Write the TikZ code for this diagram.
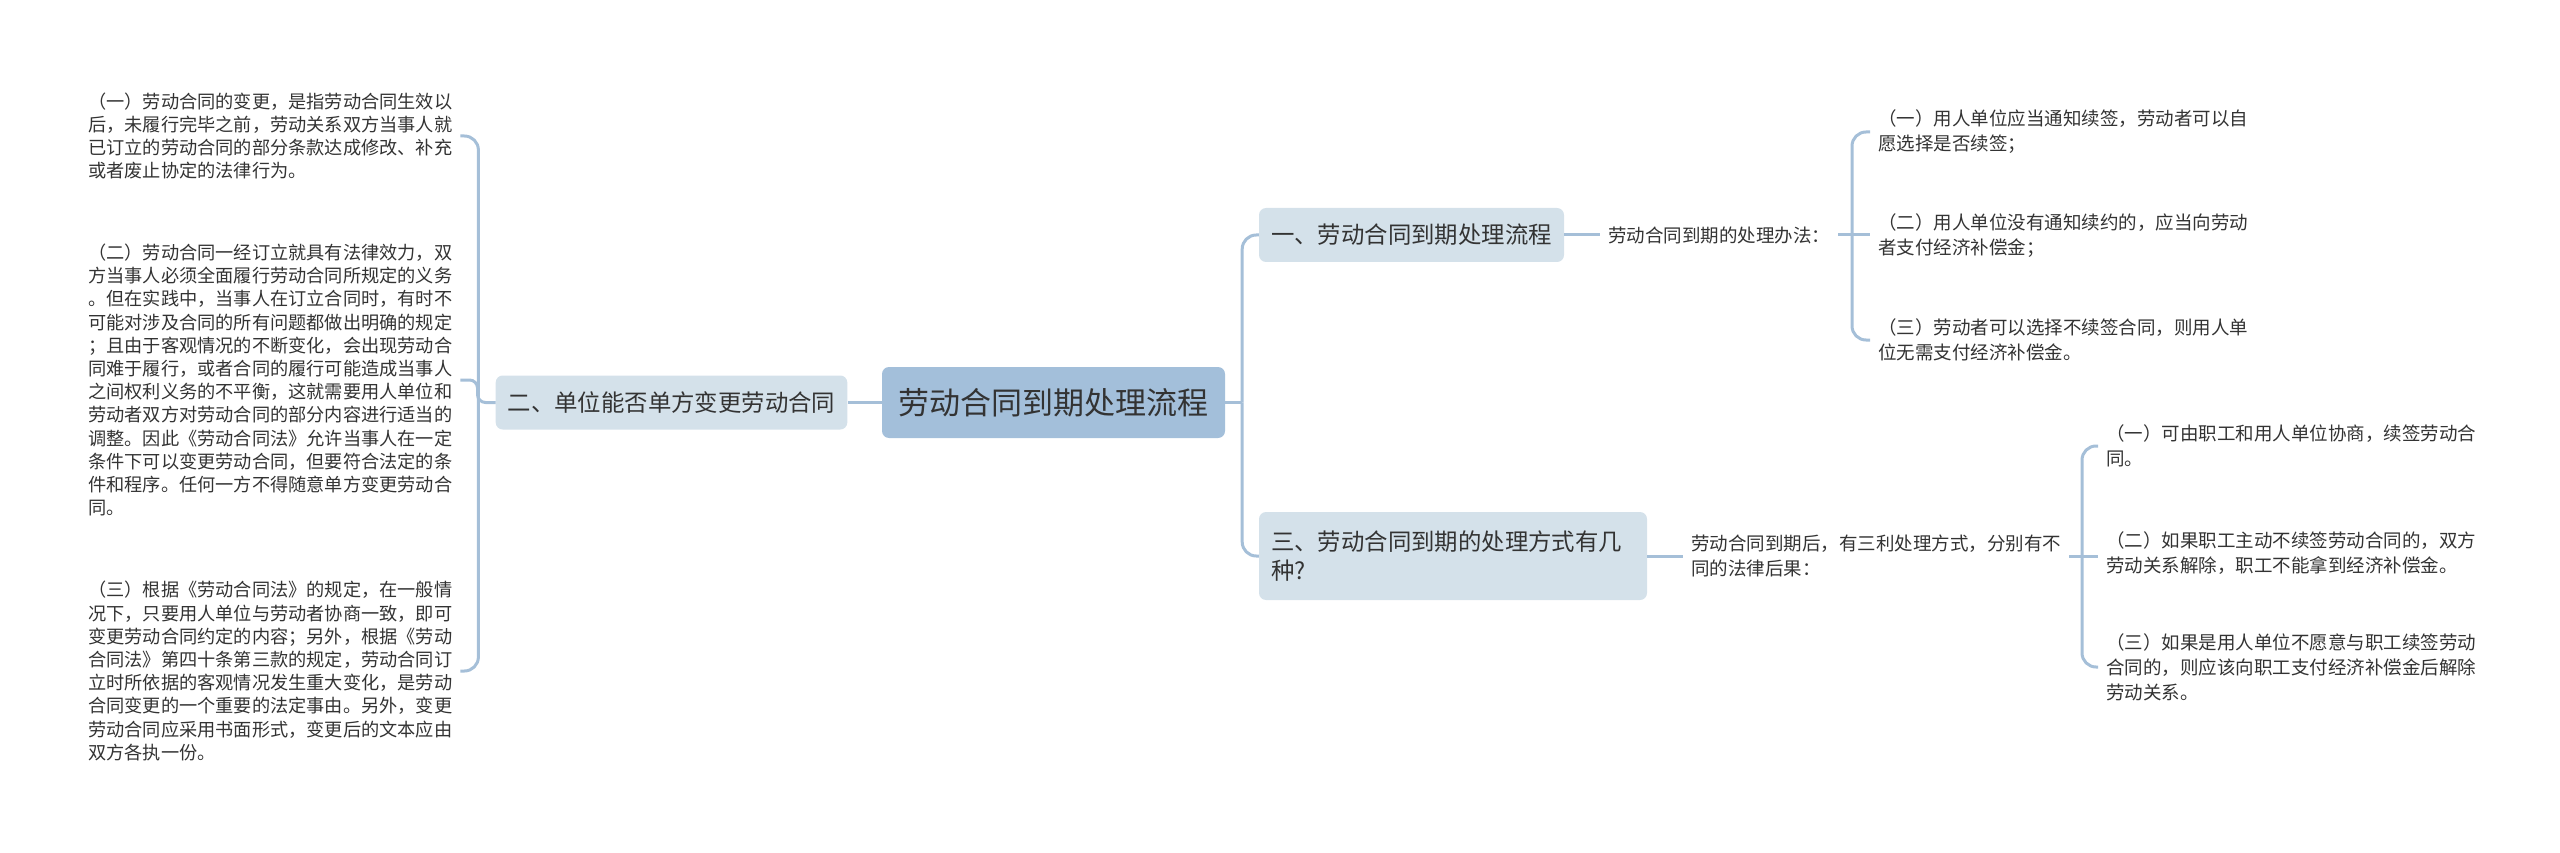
\documentclass[tikz,border=0pt]{standalone}
\usepackage{fontspec}
\setmainfont{Noto Sans CJK SC}

\definecolor{linkblue}{HTML}{A5BFD8}
\definecolor{rootblue}{HTML}{A3BFDA}
\definecolor{topicgray}{HTML}{D4E1EA}
\definecolor{inkgray}{HTML}{333333}

\begin{document}
\begin{tikzpicture}[x=1pt,y=-1pt,
  link/.style={draw=linkblue,line width=3pt,rounded corners=14pt},
  rootbox/.style={fill=rootblue,rounded corners=7pt,text=inkgray,
    font=\fontsize{31}{36}\selectfont,minimum width=343pt,minimum height=71pt,inner sep=0pt},
  topicbox/.style={fill=topicgray,rounded corners=7pt,text=inkgray,
    font=\fontsize{23.4}{29}\selectfont,minimum height=54pt,inner xsep=12pt},
  leafl/.style={text=inkgray,font=\fontsize{18.2}{23.2}\selectfont,align=left,
    inner xsep=8pt,inner ysep=0pt,anchor=west},
  leafr/.style={leafl,font=\fontsize{18.5}{25}\selectfont}]

% paper size:
\pgfmathsetmacro\pwidth{2560}
\pgfmathsetmacro\pheight{853}
\useasboundingbox (0,0) rectangle (\pwidth,\pheight);

% centre and topics:
\node[rootbox] (root) at (1053.5,402.5) {劳动合同到期处理流程};
\node[topicbox,minimum width=351pt] (chg) at (671.5,402.5) {二、单位能否单方变更劳动合同};
\node[topicbox,minimum width=305pt] (flow) at (1411.5,235) {一、劳动合同到期处理流程};
\node[topicbox,minimum width=388pt,minimum height=88pt,text width=364pt,align=left] (ways)
  at (1453,556) {三、劳动合同到期的处理方式有几\\种?};

% left leaves:
\foreach \name/\ypos/\txt in {
  lt1/136/{（一）劳动合同的变更，是指劳动合同生效以\\后，未履行完毕之前，劳动关系双方当事人就\\已订立的劳动合同的部分条款达成修改、补充\\或者废止协定的法律行为。},
  lt2/380/{（二）劳动合同一经订立就具有法律效力，双\\方当事人必须全面履行劳动合同所规定的义务\\。但在实践中，当事人在订立合同时，有时不\\可能对涉及合同的所有问题都做出明确的规定\\；且由于客观情况的不断变化，会出现劳动合\\同难于履行，或者合同的履行可能造成当事人\\之间权利义务的不平衡，这就需要用人单位和\\劳动者双方对劳动合同的部分内容进行适当的\\调整。因此《劳动合同法》允许当事人在一定\\条件下可以变更劳动合同，但要符合法定的条\\件和程序。任何一方不得随意单方变更劳动合\\同。},
  lt3/671/{（三）根据《劳动合同法》的规定，在一般情\\况下，只要用人单位与劳动者协商一致，即可\\变更劳动合同约定的内容；另外，根据《劳动\\合同法》第四十条第三款的规定，劳动合同订\\立时所依据的客观情况发生重大变化，是劳动\\合同变更的一个重要的法定事由。另外，变更\\劳动合同应采用书面形式，变更后的文本应由\\双方各执一份。}}
  \node[leafl] (\name) at (80,\ypos) {\txt};

% right leaves:
\node[leafr] (pay) at (1600,235) {劳动合同到期的处理办法：};
\node[leafr] (conseq) at (1683,556) {劳动合同到期后，有三利处理方式，分别有不\\同的法律后果：};
\foreach \name/\ypos/\txt in {
  pi1/132/{（一）用人单位应当通知续签，劳动者可以自\\愿选择是否续签；},
  pi2/236/{（二）用人单位没有通知续约的，应当向劳动\\者支付经济补偿金；},
  pi3/340/{（三）劳动者可以选择不续签合同，则用人单\\位无需支付经济补偿金。}}
  \node[leafr] (\name) at (1870,\ypos) {\txt};
\foreach \name/\ypos/\txt in {
  ci1/446/{（一）可由职工和用人单位协商，续签劳动合\\同。},
  ci2/553/{（二）如果职工主动不续签劳动合同的，双方\\劳动关系解除，职工不能拿到经济补偿金。},
  ci3/667/{（三）如果是用人单位不愿意与职工续签劳动\\合同的，则应该向职工支付经济补偿金后解除\\劳动关系。}}
  \node[leafr] (\name) at (2098,\ypos) {\txt};

% connectors:
\draw[link] (root.west) -- (chg.east);
\draw[link] (root.east) -- ++(17,0);
\draw[link] ([xshift=17pt]root.east) |- (flow.west);
\draw[link] ([xshift=17pt]root.east) |- (ways.west);
\draw[link] (flow.east) -- (pay.west);
\draw[link] (ways.east) -- (ways.east -| conseq.west);

\draw[link] (lt1.east) -- ++(18,0) |- (lt3.east);
\draw[link,rounded corners=8pt] (chg.west) -- ++(-18,0) |- (lt2.east);
\draw[link] (pi1.west) -- ++(-18,0) |- (pi3.west);
\draw[link] (pay.east) -- (pay.east -| pi2.west);
\draw[link] (ci1.west) -- ++(-16,0) |- (ci3.west);
\draw[link] (conseq.east) -- (conseq.east -| ci2.west);

\end{tikzpicture}
\end{document}
